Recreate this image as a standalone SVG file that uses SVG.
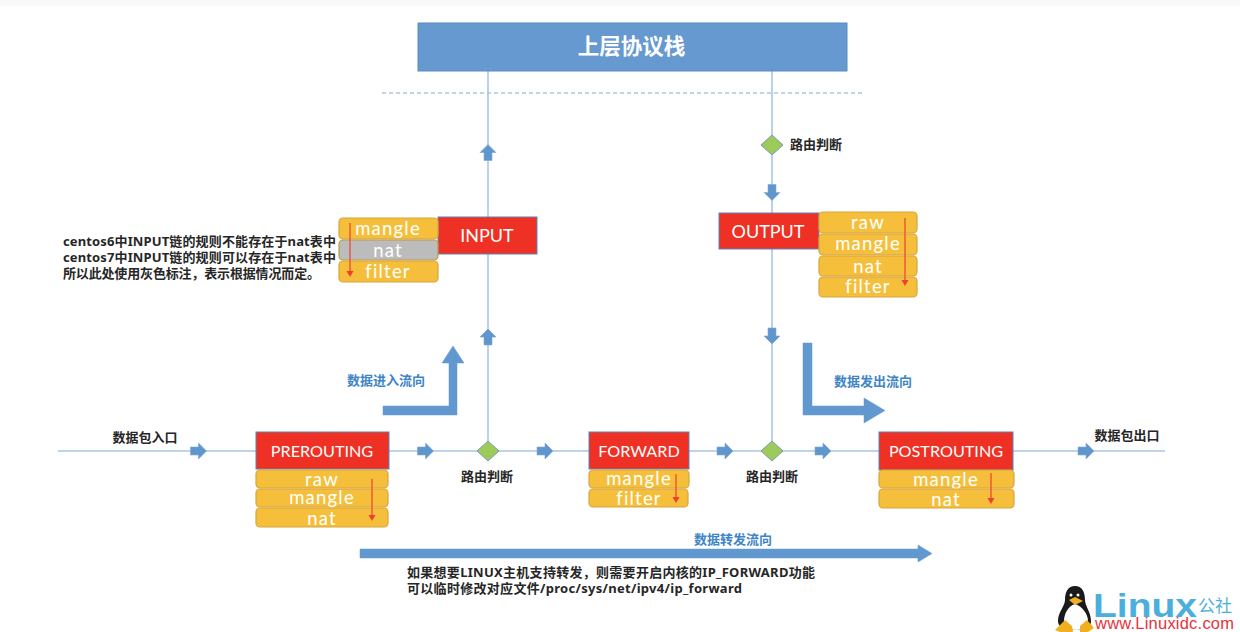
<svg xmlns="http://www.w3.org/2000/svg" width="1240" height="632" viewBox="0 0 1240 632">
<defs>
<style>
.line{stroke:#a9c6e6;stroke-width:1.6;fill:none}
.dash{stroke:#a9c6e6;stroke-width:1.6;stroke-dasharray:4 3;fill:none}
.chain{fill:#ee3124;stroke:#5b86b8;stroke-width:1}
.tbl{fill:#f6bf3b;stroke:#d6a63c;stroke-width:1.2}
.gray{fill:#bcbcbc;stroke:#b59c4c;stroke-width:1.2}
.dia{fill:#9ccb5c;stroke:#7c9cad;stroke-width:1}
.big{fill:#6198cf;stroke:#6198cf;stroke-width:.5}
.w{font-family:Lato,"Open Sans","Noto Sans CJK SC",sans-serif;fill:#fff;text-anchor:middle;font-size:18.500px;letter-spacing:1.200px}
.c{font-family:Lato,"Open Sans","Noto Sans CJK SC",sans-serif;fill:#fff;text-anchor:middle;font-size:18px}
.s{font-family:Lato,"Open Sans","Noto Sans CJK SC",sans-serif;fill:#fff;text-anchor:middle;font-size:16.200px}
.t{font-family:"Noto Sans","Noto Sans CJK SC",sans-serif;font-size:13px;font-weight:700;fill:#262626}
.m{text-anchor:middle}
.b{font-family:"Noto Sans CJK SC","Noto Sans",sans-serif;font-size:13px;font-weight:700;fill:#3d85c6;text-anchor:middle}
.red{stroke:#ee4030;stroke-width:1.2;fill:none}
</style>
<path id="ar" d="M-8-4H0V-8L8 0L0 8V4H-8Z" fill="#5f96cd" stroke="#7fa8d3" stroke-width=".6"/>
<path id="rh" d="M-3.500-6H3.500L0 0Z" fill="#ee4030"/>
</defs>
<rect width="1240" height="632" fill="#fff"/>
<rect width="1240" height="6" fill="#f9f9fb"/>
<g id="connectors">
<path class="line" d="M58 451H1165"/>
<path class="line" d="M488 71V451"/>
<path class="line" d="M772 71V451"/>
<path class="dash" d="M382 93H865"/>
<use href="#ar" x="198.500" y="451"/>
<use href="#ar" x="425.500" y="451"/>
<use href="#ar" x="545" y="451"/>
<use href="#ar" x="725" y="451"/>
<use href="#ar" x="823" y="451"/>
<use href="#ar" x="1086" y="451"/>
<use href="#ar" transform="translate(488 152.500) rotate(-90)"/>
<use href="#ar" transform="translate(488 337) rotate(-90)"/>
<use href="#ar" transform="translate(772 192.500) rotate(90)"/>
<use href="#ar" transform="translate(772 336) rotate(90)"/>
<path class="big" d="M383 406H449V363H442L453 346L464 363H457V415H383Z"/>
<path class="big" d="M803 343H812V406H864V398L885 410.500L864 423V415H803Z"/>
<path class="big" d="M360 549H918V545L932 553.500L918 562V558H360Z"/>
</g>
<g id="stack"><rect x="418" y="23" width="429" height="48" fill="#6699cf" stroke="#5b8bc0"/><text x="631.500" y="54" text-anchor="middle" font-family="'Noto Sans CJK SC',sans-serif" font-weight="700" font-size="21.500" fill="#fff">上层协议栈</text></g>
<g id="input"><rect class="chain" x="438" y="217" width="99" height="37"/><text class="c" x="487" y="242">INPUT</text>
<rect class="tbl" x="339" y="218" width="99" height="21" rx="4"/><text class="w" x="388" y="235">mangle</text>
<rect class="gray" x="339" y="240" width="99" height="20" rx="4"/><text class="w" x="388" y="256.500">nat</text>
<rect class="tbl" x="339" y="261" width="99" height="21" rx="4"/><text class="w" x="388" y="278">filter</text>
<path class="red" d="M350 223V271"/><use href="#rh" x="350" y="277"/></g>
<g id="output"><rect class="chain" x="719" y="213" width="100" height="36"/><text class="c" x="768" y="238">OUTPUT</text>
<rect class="tbl" x="819" y="212" width="98" height="21" rx="4"/><text class="w" x="868" y="229">raw</text>
<rect class="tbl" x="819" y="234" width="98" height="21" rx="4"/><text class="w" x="868" y="250">mangle</text>
<rect class="tbl" x="819" y="256" width="98" height="20" rx="4"/><text class="w" x="868" y="273">nat</text>
<rect class="tbl" x="819" y="277" width="98" height="20" rx="4"/><text class="w" x="868" y="293">filter</text>
<path class="red" d="M905 218V280"/><use href="#rh" x="905" y="286"/></g>
<g id="prerouting"><rect class="chain" x="256" y="432" width="133" height="37"/><text class="s" x="322" y="456.500">PREROUTING</text>
<rect class="tbl" x="256" y="470" width="132" height="18" rx="4"/><text class="w" x="322" y="485.500">raw</text>
<rect class="tbl" x="256" y="489" width="132" height="18" rx="4"/><text class="w" x="322" y="504">mangle</text>
<rect class="tbl" x="256" y="508" width="132" height="19" rx="4"/><text class="w" x="322" y="525">nat</text>
<path class="red" d="M372 479V515"/><use href="#rh" x="372" y="521"/></g>
<g id="forward"><rect class="chain" x="589" y="432" width="100" height="37"/><text class="s" x="639" y="456.500">FORWARD</text>
<rect class="tbl" x="589" y="470" width="100" height="18" rx="4"/><text class="w" x="639" y="485">mangle</text>
<rect class="tbl" x="589" y="489" width="99" height="18" rx="4"/><text class="w" x="639" y="505">filter</text>
<path class="red" d="M676 474V497"/><use href="#rh" x="676" y="503"/></g>
<g id="postrouting"><rect class="chain" x="879" y="432" width="134" height="38"/><text class="s" x="946" y="456.500">POSTROUTING</text>
<rect class="tbl" x="879" y="470" width="135" height="18" rx="4"/><text class="w" x="946" y="486">mangle</text>
<rect class="tbl" x="879" y="489" width="135" height="19" rx="4"/><text class="w" x="946" y="506">nat</text>
<path class="red" d="M991 473V498"/><use href="#rh" x="991" y="504"/></g>
<g id="route1"><path class="dia" d="M488 441L499 451L488 461L477 451Z"/><text class="t m" x="487" y="481">路由判断</text></g>
<g id="route2"><path class="dia" d="M772 441L783 451L772 461L761 451Z"/><text class="t m" x="772" y="481">路由判断</text></g>
<g id="route3"><path class="dia" d="M772 135L783 145L772 155L761 145Z"/><text class="t m" x="816" y="149">路由判断</text></g>
<g id="labels">
<text class="t m" x="145" y="441.500">数据包入口</text>
<text class="t m" x="1127" y="439.500">数据包出口</text>
<text class="b" x="386" y="384.500">数据进入流向</text>
<text class="b" x="873" y="385.500">数据发出流向</text>
<text class="b" x="733" y="543.500">数据转发流向</text>
<text class="t" x="63" y="246" textLength="273">centos6中INPUT链的规则不能存在于nat表中</text>
<text class="t" x="63" y="262" textLength="273">centos7中INPUT链的规则可以存在于nat表中</text>
<text class="t" x="63" y="278" textLength="257">所以此处使用灰色标注，表示根据情况而定。</text>
<text class="t" x="407" y="576.500" textLength="408">如果想要LINUX主机支持转发，则需要开启内核的IP_FORWARD功能</text>
<text class="t" x="407" y="593" textLength="335">可以临时修改对应文件/proc/sys/net/ipv4/ip_forward</text>
</g>
<g id="logo">
<path d="M1075 586C1068 586 1065 592 1065 600C1065 606 1058 612 1058 621C1058 626 1062 630 1075 630C1088 630 1091 626 1091 621C1091 612 1085 606 1085 600C1085 592 1082 586 1075 586Z" fill="#1a1a1a"/>
<path d="M1075 604C1068 606 1064 614 1064 621C1064 627 1068 630 1076 630C1084 630 1088 627 1088 621C1088 614 1082 606 1075 604Z" fill="#fff"/>
<circle cx="1071" cy="595" r="1.500" fill="#fff"/><circle cx="1078" cy="595" r="1.500" fill="#fff"/>
<path d="M1069 600L1075 597L1083 601L1075 605Z" fill="#f0b020"/>
<path d="M1055 630L1065 620L1072 626L1073 632H1060ZM1080 632L1080 626L1087 620L1094 628L1088 632Z" fill="#f0b020"/>
<text x="1093" y="617" textLength="104" lengthAdjust="spacingAndGlyphs" font-family="'Liberation Sans',sans-serif" font-weight="700" font-size="33" fill="#4aafdc">Linux</text>
<text x="1198" y="612" font-family="'Noto Sans CJK SC',sans-serif" font-size="17" fill="#4aafdc">公社</text>
<text x="1095" y="629" font-family="'Liberation Sans',sans-serif" font-size="16.500" textLength="139" fill="#e8323c">www.Linuxidc.com</text>
</g>
</svg>
